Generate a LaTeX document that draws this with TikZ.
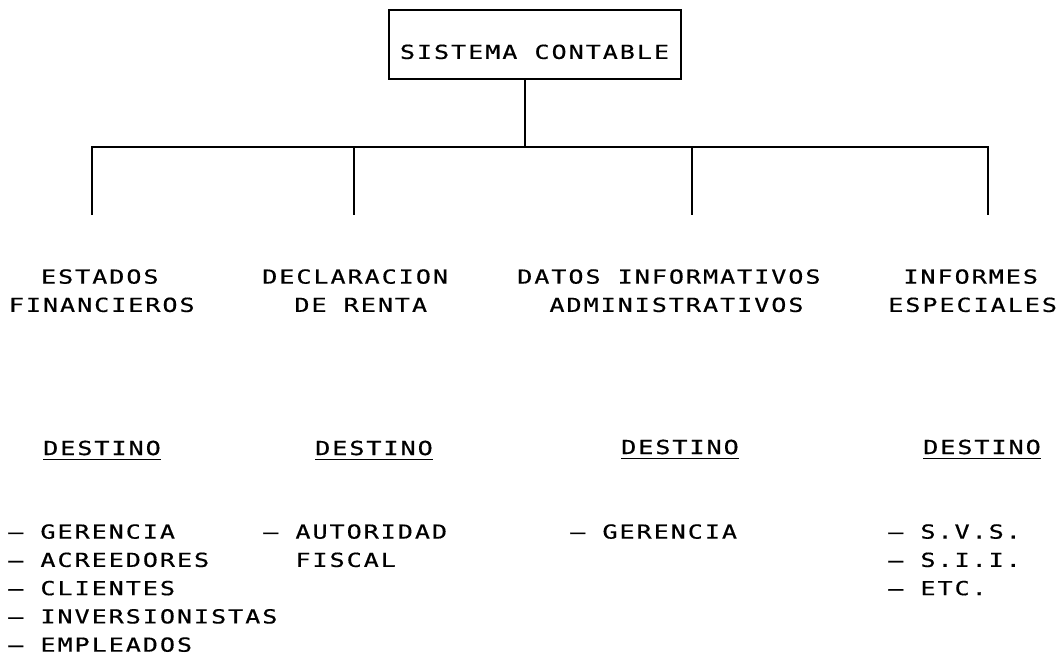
\documentclass[tikz,border=0pt]{standalone}
\usepackage{fontspec}
\newfontfamily\maquina[FakeStretch=1.3,LetterSpace=10,FakeBold=0.5]{DejaVu Sans Mono}
\usetikzlibrary{positioning}
\newsavebox{\mibox}
\newcommand{\subrayado}[1]{\sbox{\mibox}{#1}\rlap{\smash{\rule[-4pt]{\wd\mibox}{0.9pt}}}\usebox{\mibox}}

\begin{document}
\begin{tikzpicture}[x=0.75pt, y=-0.75pt,
    every node/.style={font=\maquina\fontsize{14.5}{21.2}\selectfont, inner sep=0pt},
    raiz/.style={draw, line width=1.5pt, minimum width=219pt, minimum height=52pt, text height=21.6pt, text depth=0pt},
    rama/.style={align=left, anchor=north west},
    destino/.style={anchor=center},
    lista/.style={align=left, anchor=north west},
    linea/.style={line width=1.5pt}
]
\useasboundingbox (0,0) rectangle (1056,654);

\node[raiz] (sistema) at (534.5, 44.5) {SISTEMA CONTABLE};

\coordinate (nudo) at (525, 147);
\foreach \x/\n in {92/1, 354/2, 692/3, 988/4} {
    \coordinate (c\n) at (\x, 147);
    \coordinate (p\n) at (\x, 215);
}
\draw[linea] (sistema.south -| nudo) -- (nudo);
\draw[linea] (p1) -- (c1) -- (c4) -- (p4);
\draw[linea] (c2) -- (p2);
\draw[linea] (c3) -- (p3);

\node[rama] (estados) at (8.6, 269) {\hphantom{XX}ESTADOS\\FINANCIEROS};
\node[rama] (renta) at (262, 269) {DECLARACION\\\hphantom{XX}DE RENTA};
\node[rama] (datos) at (517, 269) {DATOS INFORMATIVOS\\\hphantom{XX}ADMINISTRATIVOS};
\node[rama] (informes) at (888, 269) {\hphantom{X}INFORMES\\ESPECIALES};

\node[destino] (dest1) at (102, 448) {\subrayado{DESTINO}};
\node[destino] (dest2) at (374, 448) {\subrayado{DESTINO}};
\node[destino] (dest3) at (680, 447) {\subrayado{DESTINO}};
\node[destino] (dest4) at (982, 447) {\subrayado{DESTINO}};

\node[lista] (lista1) at (8, 524) {– GERENCIA\\– ACREEDORES\\– CLIENTES\\– INVERSIONISTAS\\– EMPLEADOS};
\node[lista] (lista2) at (263, 524) {– AUTORIDAD\\\hphantom{XX}FISCAL};
\node[lista] (lista3) at (570, 524) {– GERENCIA};
\node[lista] (lista4) at (888, 524) {– S.V.S.\\– S.I.I.\\– ETC.};

\end{tikzpicture}
\end{document}
